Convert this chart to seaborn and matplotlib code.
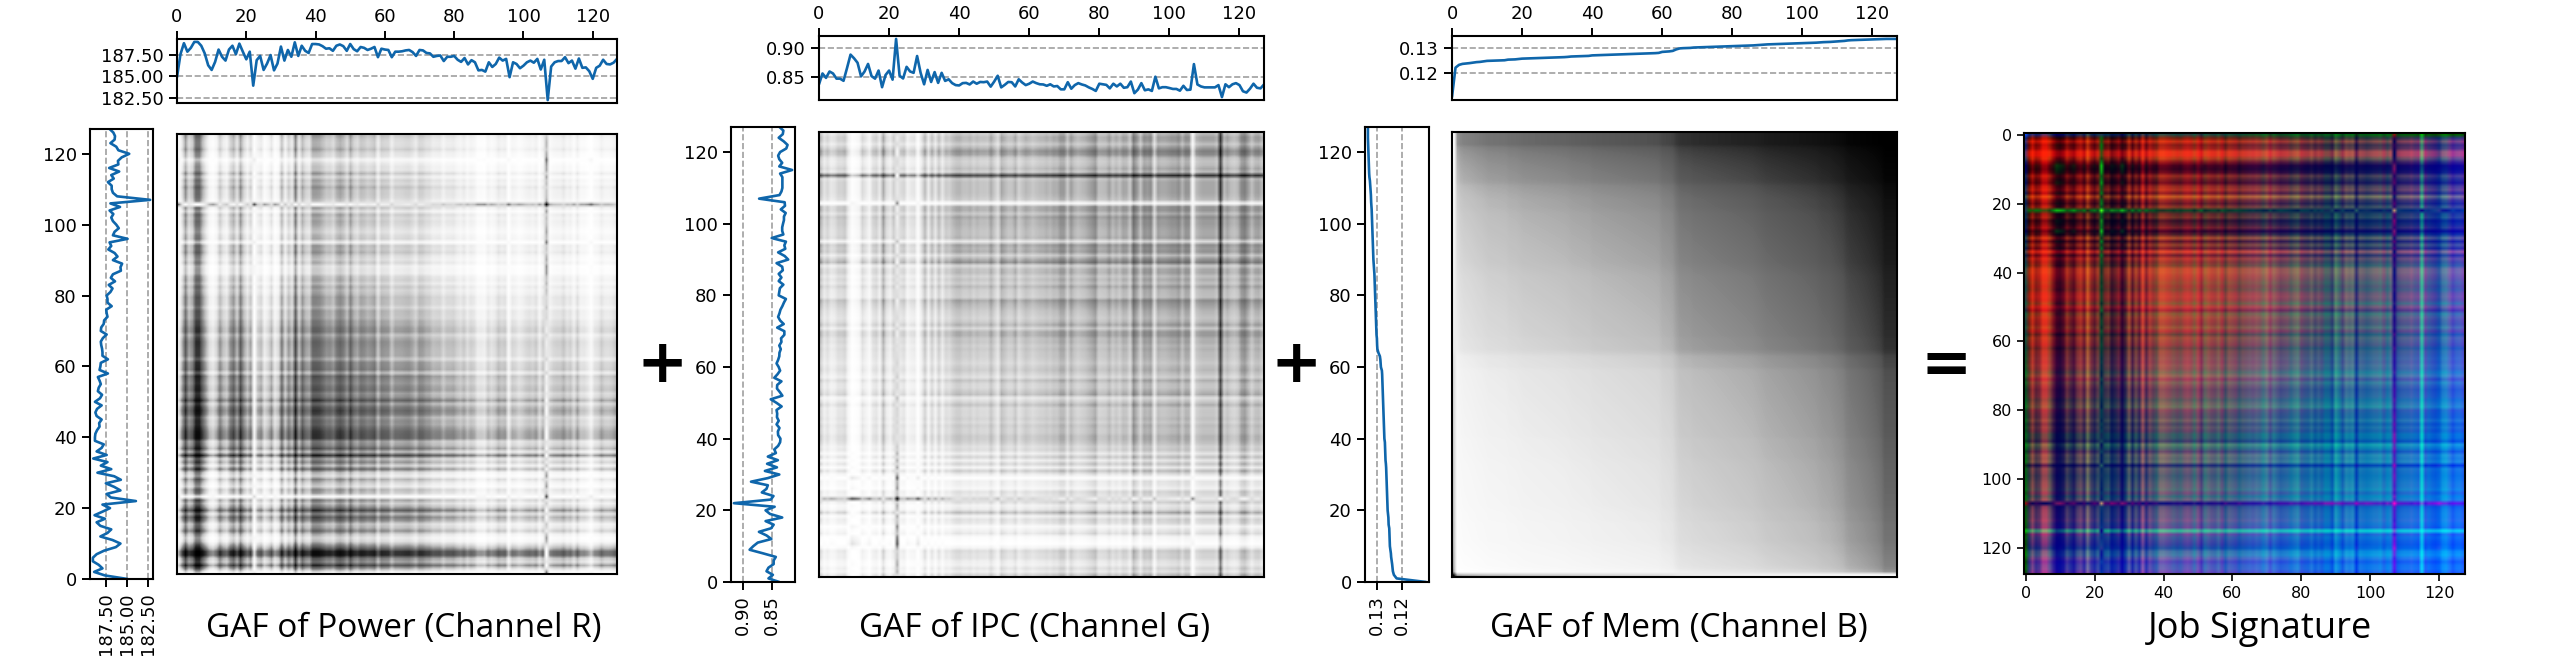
import numpy as np
import matplotlib
matplotlib.use("Agg")
import matplotlib.pyplot as plt
import seaborn as sns

# series, one value per time step
power = [184.9, 187.6, 188.9, 187.9, 188.35, 189.05, 189.05, 188.6, 187.7, 186.3,
         185.75, 186.7, 188.15, 187.3, 186.85, 188.15, 188.6, 187.6, 188.85, 187.9,
         187.0, 187.9, 183.9, 186.9, 187.4, 185.75, 186.5, 187.5, 185.7, 186.5,
         188.5, 186.85, 188.1, 187.3, 189.0, 187.4, 188.6, 188.0, 187.75, 188.8,
         188.8, 188.75, 188.55, 188.25, 188.3, 188.0, 188.6, 188.75, 188.55, 188.0,
         188.8, 188.2, 187.95, 188.45, 188.35, 188.1, 188.25, 188.45, 187.25, 188.25,
         188.15, 188.1, 187.25, 187.9, 187.9, 187.95, 188.05, 188.1, 187.85, 187.4,
         188.1, 188.05, 187.75, 187.7, 187.3, 187.4, 187.45, 186.8, 187.3, 187.3,
         187.4, 186.95, 186.7, 187.15, 186.4, 186.9, 186.65, 185.7, 185.75, 185.55,
         186.65, 186.1, 186.45, 187.2, 186.85, 187.05, 184.9, 186.65, 186.45, 185.95,
         186.25, 186.65, 186.85, 186.6, 187.05, 185.8, 186.95, 182.2, 186.15, 186.65,
         186.8, 186.8, 187.25, 186.55, 186.85, 185.9, 187.1, 186.0, 186.05, 185.6,
         184.7, 186.0, 186.25, 186.95, 186.45, 186.4, 186.6, 187.05]

ipc = [0.837, 0.8556, 0.848, 0.859, 0.8556, 0.8467, 0.8467, 0.843, 0.865, 0.888,
       0.8817, 0.874, 0.8506, 0.859, 0.872, 0.851, 0.8467, 0.8606, 0.832, 0.853,
       0.8606, 0.845, 0.915, 0.8517, 0.847, 0.867, 0.859, 0.8567, 0.8856, 0.8567,
       0.837, 0.8617, 0.841, 0.858, 0.8394, 0.8567, 0.8428, 0.8456, 0.839, 0.8356,
       0.835, 0.839, 0.8394, 0.8367, 0.8417, 0.838, 0.841, 0.8406, 0.8417, 0.833,
       0.8417, 0.8517, 0.8317, 0.836, 0.841, 0.8406, 0.8333, 0.8456, 0.84, 0.8356,
       0.838, 0.8417, 0.839, 0.837, 0.8367, 0.8344, 0.837, 0.8333, 0.834, 0.8283,
       0.8283, 0.8406, 0.8294, 0.8356, 0.839, 0.8367, 0.835, 0.8317, 0.829, 0.8256,
       0.838, 0.837, 0.836, 0.83, 0.838, 0.8333, 0.838, 0.831, 0.832, 0.8417,
       0.8217, 0.8278, 0.839, 0.8267, 0.8283, 0.8256, 0.85, 0.83, 0.832, 0.832,
       0.8306, 0.829, 0.829, 0.826, 0.8344, 0.8272, 0.8278, 0.8717, 0.8367, 0.8333,
       0.8317, 0.8317, 0.8317, 0.8317, 0.8356, 0.815, 0.837, 0.832, 0.837, 0.839,
       0.8356, 0.825, 0.8228, 0.8294, 0.838, 0.831, 0.83, 0.8367]

mem = [0.1104, 0.1222, 0.1233, 0.1237, 0.12385, 0.124, 0.1242, 0.1244, 0.1245, 0.1247,
       0.1249, 0.12495, 0.125, 0.12505, 0.1251, 0.12515, 0.1254, 0.12545, 0.1255, 0.12565,
       0.1258, 0.12585, 0.1259, 0.12595, 0.126, 0.12605, 0.1261, 0.12615, 0.1262, 0.12625,
       0.1263, 0.12635, 0.1264, 0.1265, 0.12665, 0.1267, 0.12675, 0.1268, 0.12685, 0.1269,
       0.1271, 0.12715, 0.1272, 0.12725, 0.1273, 0.12735, 0.1274, 0.12745, 0.1275, 0.12755,
       0.1276, 0.12765, 0.1277, 0.12775, 0.1278, 0.12785, 0.1279, 0.12795, 0.128, 0.1281,
       0.1285, 0.1286, 0.1287, 0.1289, 0.1295, 0.1299, 0.13, 0.13005, 0.1301, 0.13025,
       0.1303, 0.13035, 0.1304, 0.13045, 0.1305, 0.13055, 0.1306, 0.13065, 0.1307, 0.13075,
       0.1308, 0.13085, 0.1309, 0.13095, 0.131, 0.13105, 0.1311, 0.1312, 0.1313, 0.1314,
       0.1315, 0.13155, 0.1316, 0.13165, 0.1317, 0.13175, 0.1318, 0.13185, 0.1319, 0.13195,
       0.132, 0.13205, 0.1321, 0.13215, 0.1322, 0.1323, 0.1324, 0.13245, 0.1325, 0.1326,
       0.1327, 0.1328, 0.1329, 0.1331, 0.1332, 0.13325, 0.1333, 0.13335, 0.1334, 0.13345,
       0.1335, 0.13355, 0.1336, 0.13365, 0.1337, 0.1337, 0.1337, 0.1337]

captions = ["GAF of Power (Channel R)", "GAF of IPC (Channel G)", "GAF of Mem (Channel B)", "Job Signature"]
index_ticks = [0, 20, 40, 60, 80, 100, 120]
value_ticks = [[182.5, 185.0, 187.5], [0.85, 0.90], [0.12, 0.13]]
tick_formats = ["%.2f", "%.2f", "%.2f"]

W, H = 2550, 657
LINE = "#0f66ab"

sns.set_style("ticks", {"axes.edgecolor": "black", "xtick.color": "black", "ytick.color": "black",
                        "text.color": "black"})
plt.rcParams["font.family"] = ["DejaVu Sans"]


def gaf(series):
    # gramian angular summation field of the series
    s = np.asarray(series)
    scaled = 2 * (s - s.min()) / (s.max() - s.min()) - 1
    phi = np.arccos(np.clip(scaled, -1, 1))
    return np.cos(phi[:, None] + phi[None, :])


def box(fig, left, top, right, bottom):
    return fig.add_axes([left / W, 1 - bottom / H, (right - left) / W, (bottom - top) / H])


def panel(fig, series, ticks, fmt, xs, top_ys, left_xs, left_ys, img_ys):
    idx = np.arange(len(series))
    top_ax = box(fig, xs[0], top_ys[0], xs[1], top_ys[1])
    sns.lineplot(x=idx, y=series, ax=top_ax, color=LINE, linewidth=1.9)
    top_ax.set_xlim(0, 127)
    top_ax.set_xticks(index_ticks)
    top_ax.xaxis.tick_top()
    top_ax.set_yticks(ticks)
    top_ax.yaxis.set_major_formatter(matplotlib.ticker.FormatStrFormatter(fmt))
    top_ax.grid(axis="y", color="#a0a0a0", linestyle="--", linewidth=1.2)
    top_ax.tick_params(labelsize=13, width=1.4, length=6)

    left_ax = box(fig, left_xs[0], left_ys[0], left_xs[1], left_ys[1])
    sns.lineplot(x=series, y=idx, ax=left_ax, color=LINE, linewidth=1.9, orient="y")
    left_ax.set_ylim(0, 127)
    left_ax.set_yticks(index_ticks)
    left_ax.set_xticks(ticks)
    left_ax.invert_xaxis()
    left_ax.xaxis.set_major_formatter(matplotlib.ticker.FormatStrFormatter(fmt))
    left_ax.grid(axis="x", color="#a0a0a0", linestyle="--", linewidth=1.2)
    left_ax.tick_params(labelsize=13, width=1.4, length=6)
    left_ax.tick_params(axis="x", labelrotation=90)

    for ax in (top_ax, left_ax):
        ax.set_xlabel("")
        ax.set_ylabel("")
        for sp in ax.spines.values():
            sp.set_visible(True)
            sp.set_linewidth(1.5)

    img_ax = box(fig, xs[0], img_ys[0], xs[1], img_ys[1])
    img_ax.imshow(gaf(series), cmap="Greys", origin="lower", aspect="auto", interpolation="bilinear")
    img_ax.set_xticks([])
    img_ax.set_yticks([])
    for sp in img_ax.spines.values():
        sp.set_visible(True)
        sp.set_linewidth(1.5)


fig = plt.figure(figsize=(W / 100, H / 100), dpi=100, facecolor="white")

panel(fig, power, value_ticks[0], tick_formats[0], (177, 617), (39, 103), (90, 153), (129, 579), (134, 574))
panel(fig, ipc, value_ticks[1], tick_formats[1], (819, 1264), (36, 100), (731, 795), (127, 582), (132, 577))
panel(fig, mem, value_ticks[2], tick_formats[2], (1452, 1897), (36, 100), (1365, 1429), (127, 582), (132, 577))

# job signature: the three fields as colour channels
rgb = np.dstack([(gaf(power) + 1) / 2, (gaf(ipc) + 1) / 2, (gaf(mem) + 1) / 2])
sig_ax = box(fig, 2024, 133, 2465, 574)
sig_ax.imshow(rgb, aspect="auto", interpolation="bilinear")
sig_ax.set_xticks(index_ticks)
sig_ax.set_yticks(index_ticks)
sig_ax.tick_params(labelsize=11.5, width=1.2, length=5)
for sp in sig_ax.spines.values():
    sp.set_visible(True)
    sp.set_linewidth(1.5)

for label, cx, size in zip(captions, [404, 1035, 1679, 2260], [24, 24, 24, 26]):
    fig.text(cx / W, 1 - 629 / H, label, ha="center", va="center", fontsize=size,
             family=["Open Sans", "DejaVu Sans"])

for sign, cx in zip(["+", "+", "="], [662, 1296, 1946]):
    fig.text(cx / W, 1 - 366 / H, sign, ha="center", va="center", fontsize=44, fontweight="bold")

fig.savefig("out.png", dpi=100, facecolor="white")
